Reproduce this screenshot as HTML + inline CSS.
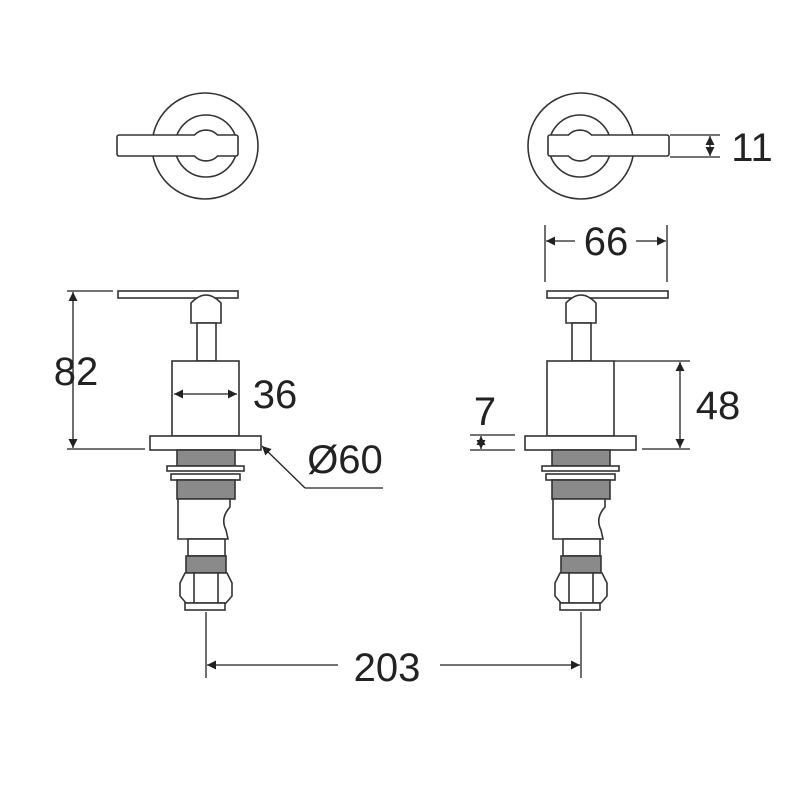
<!DOCTYPE html>
<html><head><meta charset="utf-8"><style>html,body{margin:0;padding:0;background:#fff}svg{display:block}</style></head>
<body>
<svg width="800" height="800" viewBox="0 0 800 800" xmlns="http://www.w3.org/2000/svg">
<defs>
<marker id="a" viewBox="0 0 10 10" refX="10" refY="5" markerWidth="9" markerHeight="9" markerUnits="userSpaceOnUse" orient="auto-start-reverse"><path d="M0,0 L10,5 L0,10 z" fill="#222"/></marker>
<g id="tap" fill="#fff" stroke="#333" stroke-width="1.6">
  <path d="M191,323 L191,303 Q206,287 221,303 L221,323 Z"/>
  <rect x="197" y="323" width="19" height="38"/>
  <rect x="172" y="361" width="67" height="75"/>
  <rect x="150" y="436" width="111" height="14"/>
  <rect x="177" y="450" width="58" height="16" fill="#8a8a8a"/>
  <rect x="167" y="466" width="77" height="5"/>
  <rect x="171" y="474" width="69" height="6"/>
  <rect x="177" y="480" width="58" height="19" fill="#8a8a8a"/>
  <path d="M178,499 L230,499 L230,507 Q220,518 226,530 L228,539 L178,539 Z"/>
  <rect x="188" y="539" width="37" height="17"/>
  <rect x="186" y="556" width="40" height="17" fill="#8a8a8a"/>
  <path d="M185,573 L227,573 L232,583 L232,596 L226,603 L186,603 L180,596 L180,583 Z"/>
  <path d="M194,573 L194,603 M218,573 L218,603" fill="none"/>
  <rect x="185" y="603" width="40" height="7"/>
</g>
<g id="top" fill="none" stroke="#333" stroke-width="1.6">
  <circle cx="205" cy="146" r="53"/>
  <circle cx="206" cy="146" r="31"/>
  <rect x="117" y="135" width="121" height="21" rx="2" fill="#fff"/>
  <rect x="195" y="133" width="22" height="25" fill="#fff" stroke="none"/>
  <path d="M194.4,135 A16,16 0 0 1 217.6,135 M194.4,156 A16,16 0 0 0 217.6,156"/>
</g>
</defs>
<use href="#top"/>
<g transform="translate(786,0) scale(-1,1)"><use href="#top"/></g>
<rect x="118" y="291" width="120" height="7" fill="#fff" stroke="#333" stroke-width="1.6"/>
<rect x="547" y="291" width="121" height="7" fill="#fff" stroke="#333" stroke-width="1.6"/>
<use href="#tap"/>
<use href="#tap" transform="translate(375,0)"/>

<g stroke="#222" stroke-width="1.3" fill="none">
  <line x1="67" y1="291" x2="113" y2="291"/>
  <line x1="67" y1="449" x2="145" y2="449"/>
  <line x1="73" y1="292" x2="73" y2="448" marker-start="url(#a)" marker-end="url(#a)"/>
  <line x1="174" y1="394" x2="237" y2="394" marker-start="url(#a)" marker-end="url(#a)"/>
  <line x1="383" y1="488" x2="305" y2="488"/>
  <line x1="305" y1="488" x2="262" y2="446" marker-end="url(#a)"/>
  <line x1="206" y1="612" x2="206" y2="678"/>
  <line x1="581" y1="612" x2="581" y2="678"/>
  <line x1="207" y1="665" x2="338" y2="665" marker-start="url(#a)"/>
  <line x1="440" y1="665" x2="580" y2="665" marker-end="url(#a)"/>
  <line x1="545" y1="225" x2="545" y2="282"/>
  <line x1="667" y1="225" x2="667" y2="282"/>
  <line x1="546" y1="241" x2="575" y2="241" marker-start="url(#a)"/>
  <line x1="636" y1="241" x2="666" y2="241" marker-end="url(#a)"/>
  <line x1="670" y1="135" x2="720" y2="135"/>
  <line x1="670" y1="157" x2="720" y2="157"/>
  <line x1="710" y1="136" x2="710" y2="156" marker-start="url(#a)" marker-end="url(#a)"/>
  <line x1="614" y1="361" x2="690" y2="361"/>
  <line x1="642" y1="449" x2="690" y2="449"/>
  <line x1="680" y1="362" x2="680" y2="448" marker-start="url(#a)" marker-end="url(#a)"/>
  <line x1="470" y1="435" x2="515" y2="435"/>
  <line x1="470" y1="450" x2="515" y2="450"/>
  <line x1="481" y1="436" x2="481" y2="449" marker-start="url(#a)" marker-end="url(#a)"/>
</g>
<g font-family="Liberation Sans, sans-serif" font-size="40" fill="#222">
  <text x="76" y="385" text-anchor="middle">82</text>
  <text x="275" y="408" text-anchor="middle">36</text>
  <text x="345" y="473" text-anchor="middle">Ø60</text>
  <text x="387" y="681" text-anchor="middle">203</text>
  <text x="606" y="255" text-anchor="middle">66</text>
  <text x="752" y="161" text-anchor="middle">11</text>
  <text x="718" y="419" text-anchor="middle">48</text>
  <text x="485" y="425" text-anchor="middle">7</text>
</g>
</svg>
</body></html>
